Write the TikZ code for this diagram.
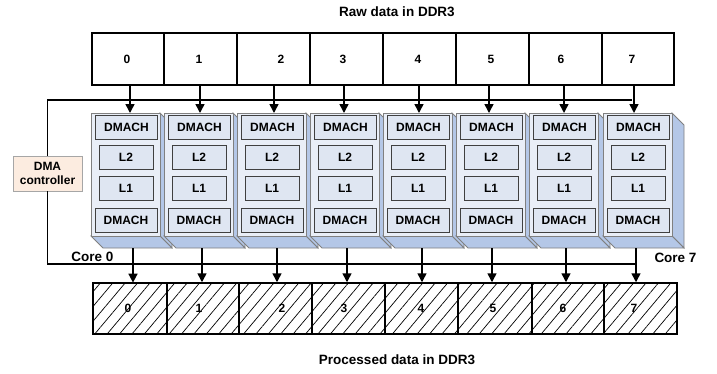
\documentclass[tikz,border=0pt]{standalone}
\usepackage{fontspec}
\setmainfont{Liberation Sans}
\usetikzlibrary{arrows.meta,patterns.meta,calc}
\definecolor{corefront}{HTML}{E9EEF7}
\definecolor{coreside}{HTML}{B4C7E7}
\definecolor{innerfill}{HTML}{DFE6F2}
\definecolor{coreedge}{HTML}{808080}
\definecolor{inneredge}{HTML}{404040}
\definecolor{dmafill}{HTML}{FCECE0}
\definecolor{dmaedge}{HTML}{A6A6A6}
\begin{document}
\begin{tikzpicture}[x=1pt,y=-1pt,
  txt/.style={font=\fontsize{12}{13}\selectfont\bfseries, inner sep=0pt},
  bigtxt/.style={font=\fontsize{13.5}{15}\selectfont\bfseries, inner sep=0pt},
  rawbox/.style={draw=black, line width=1.5pt, fill=white, minimum height=52pt, inner sep=0pt},
  procbox/.style={draw=black, line width=1.5pt, minimum height=51pt, inner sep=0pt,
    pattern={Lines[angle=50,distance=9.5pt,line width=0.7pt]}},
  corebox/.style={draw=coreedge, line width=0.8pt, fill=corefront, minimum width=69pt, minimum height=123pt, inner sep=0pt, anchor=north west},
  coreface/.style={draw=coreedge, line width=0.8pt, fill=coreside},
  dmach/.style={txt, draw=inneredge, line width=1pt, fill=innerfill, minimum width=62pt, minimum height=24pt},
  lbox/.style={txt, draw=inneredge, line width=0.9pt, fill=innerfill, minimum width=54pt, minimum height=24pt},
  conn/.style={draw=black, line width=1.5pt},
  arr/.style={conn, -{Triangle[length=9pt,width=9pt]}},
]
\useasboundingbox (0,0) rectangle (717,373);

% titles
\node[bigtxt] (rawtitle) at (397,12) {Raw data in DDR3};
\node[bigtxt] (proctitle) at (397,360) {Processed data in DDR3};

% raw data boxes
\foreach \i/\xl/\xr/\lx in {0/92/164/127,1/164/237/199,2/237/310/281,3/310/383/343,4/383/456/418,5/456/529/491,6/529/602/561,7/602/674/632} {
  \node[rawbox, minimum width={\xr-\xl}] (t\i) at ({(\xl+\xr)/2},59) {};
  \node[txt] (tl\i) at (\lx,59) {\i};
}

% processed data boxes
\foreach \i/\xl/\xr/\lx in {0/93/167/128,1/167/239/199,2/239/312/282,3/312/385/344,4/385/458/421,5/458/532/493,6/532/604/563,7/604/677/634} {
  \node[procbox, minimum width={\xr-\xl}] (b\i) at ({(\xl+\xr)/2},308.5) {};
  \node[txt] (bl\i) at (\lx,308) {\i};
}

% DMA controller
\node[txt, draw=dmaedge, line width=0.8pt, fill=dmafill, minimum width=69pt, minimum height=35pt, align=center, font=\fontsize{12}{14}\selectfont\bfseries] (dma) at (47.5,173.5) {DMA\\controller};

% cores
\foreach \i/\x in {0/91,1/164,2/237,3/310,4/383,5/456,6/529,7/603} {
  \path[coreface] (\x+69,113) -- ++(12,12) -- ++(0,123) -- ++(-12,-12) -- cycle;
  \path[coreface] (\x,236) -- (\x+69,236) -- ++(12,12) -- (\x+12,248) -- cycle;
  \node[corebox] (c\i) at (\x,113) {};
  \node[dmach] (dt\i) at (\x+35.5,127.5) {DMACH};
  \node[lbox] (lb2\i) at (\x+35,157.5) {L2};
  \node[lbox] (lb1\i) at (\x+35,188) {L1};
  \node[dmach] (db\i) at (\x+35,220) {DMACH};
}

\node[bigtxt] (core0) at (92.5,257) {Core 0};
\node[bigtxt] (core7) at (675.5,258) {Core 7};

% DMA controller bus lines
\coordinate (topend) at (632,100);
\coordinate (botend) at (636,264);
\draw[conn] (topend) -| (dma.north);
\draw[conn] (dma.south) |- (botend);

% arrows from raw data to cores
\foreach \i/\ax in {0/130,1/200,2/274,3/344,4/419,5/489,6/564,7/634} {
  \coordinate (ta\i) at (\ax,85);
  \draw[arr] (ta\i) -- (ta\i |- c\i.north);
}

% arrows from cores to processed data
\foreach \i/\ax in {0/133,1/202,2/277,3/347,4/422,5/492,6/566,7/636} {
  \coordinate (ba\i) at (\ax,248);
  \draw[arr] (ba\i) -- (ba\i |- b\i.north);
}
\end{tikzpicture}
\end{document}
